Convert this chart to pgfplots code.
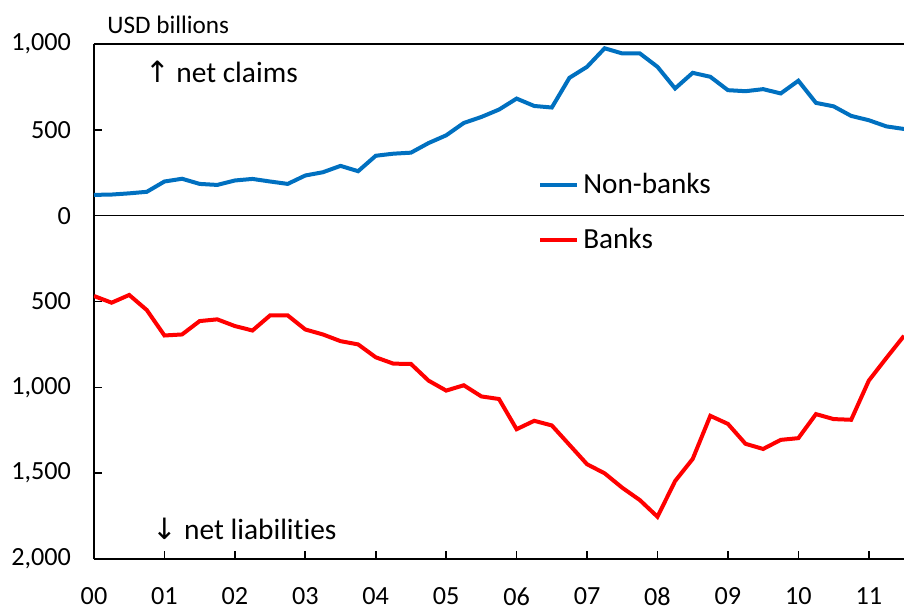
\documentclass[border=0pt]{standalone}
\usepackage{pgfplots}
\pgfplotsset{compat=1.18}
\usepackage{fontspec}
\setmainfont[Ligatures=NoCommon]{Carlito}
\newfontfamily\dejavu{DejaVu Sans}
\definecolor{nbblue}{HTML}{0070C0}
\definecolor{bkred}{HTML}{FF0000}
\begin{document}
\begin{tikzpicture}
\begin{axis}[
  scale only axis,
  width=405pt, height=257.5pt,
  xmin=2000, xmax=2011.5,
  ymin=-2000, ymax=1000,
  axis x line*=bottom, axis y line*=left,
  axis line style={line width=0.8pt, -},
  tick align=inside,
  major tick length=4pt,
  tick style={line width=0.8pt, black},
  xtick={2000,2001,...,2011},
  xticklabels={00,01,02,03,04,05,06,07,08,09,10,11},
  ytick={-2000,-1500,-1000,-500,0,500,1000},
  yticklabels={{2,000},{1,500},{1,000},{500},{0},{500},{1,000}},
  ticklabel style={font=\fontsize{13.1}{15}\selectfont},
  xticklabel style={inner sep=0pt, yshift=-14pt},
  yticklabel style={xshift=-8pt},
  /pgf/number format/assume math mode=true,
  clip=true,
  legend style={at={(0.548,0.757)}, anchor=north west, draw=none, fill=none,
    font=\fontsize{14.6}{17}\selectfont, row sep=11.8pt, inner sep=0pt},
  legend cell align=left,
  legend image code/.code={\draw[#1] (0pt,0pt)--(18.5pt,0pt);},
]
\addplot[nbblue, line width=2pt] coordinates {
(2000.00,121)(2000.25,123)(2000.50,130)(2000.75,139)
(2001.00,199)(2001.25,215)(2001.50,185)(2001.75,179)
(2002.00,205)(2002.25,214)(2002.50,199)(2002.75,185)
(2003.00,234)(2003.25,253)(2003.50,290)(2003.75,259)
(2004.00,349)(2004.25,361)(2004.50,367)(2004.75,423)
(2005.00,468)(2005.25,540)(2005.50,575)(2005.75,618)
(2006.00,682)(2006.25,639)(2006.50,630)(2006.75,803)
(2007.00,867)(2007.25,975)(2007.50,945)(2007.75,945)
(2008.00,867)(2008.25,741)(2008.50,832)(2008.75,809)
(2009.00,731)(2009.25,725)(2009.50,737)(2009.75,712)
(2010.00,786)(2010.25,657)(2010.50,637)(2010.75,581)
(2011.00,556)(2011.25,520)(2011.50,505)
};
\addlegendentry{Non-banks}
\addplot[bkred, line width=2pt] coordinates {
(2000.00,-468)(2000.25,-507)(2000.50,-462)(2000.75,-550)
(2001.00,-698)(2001.25,-692)(2001.50,-614)(2001.75,-604)
(2002.00,-643)(2002.25,-669)(2002.50,-581)(2002.75,-581)
(2003.00,-663)(2003.25,-692)(2003.50,-731)(2003.75,-750)
(2004.00,-825)(2004.25,-862)(2004.50,-864)(2004.75,-961)
(2005.00,-1019)(2005.25,-988)(2005.50,-1053)(2005.75,-1068)
(2006.00,-1244)(2006.25,-1195)(2006.50,-1222)(2006.75,-1335)
(2007.00,-1448)(2007.25,-1501)(2007.50,-1585)(2007.75,-1657)
(2008.00,-1754)(2008.25,-1546)(2008.50,-1417)(2008.75,-1166)
(2009.00,-1213)(2009.25,-1329)(2009.50,-1359)(2009.75,-1306)
(2010.00,-1296)(2010.25,-1156)(2010.50,-1185)(2010.75,-1189)
(2011.00,-961)(2011.25,-829)(2011.50,-700)
};
\addlegendentry{Banks}
\draw[line width=0.8pt] (rel axis cs:0,1) -- (rel axis cs:1,1);
\draw[line width=0.8pt] (axis cs:2000,0) -- (axis cs:2011.5,0);
\coordinate (bl) at (rel axis cs:0,0);
\coordinate (tl) at (rel axis cs:0,1);
\coordinate (nc) at (axis cs:2000.72,840);
\coordinate (nl) at (axis cs:2000.83,-1825);
\end{axis}
\node[anchor=west, inner sep=0pt, font=\fontsize{14.7}{17}\selectfont] at (nc) {{\dejavu ↑} net claims};
\node[anchor=west, inner sep=0pt, font=\fontsize{14.7}{17}\selectfont] at (nl) {{\dejavu ↓} net liabilities};
\node[anchor=south west, inner sep=0pt, font=\fontsize{12.6}{14}\selectfont] at ([xshift=6.5pt,yshift=5pt]tl) {USD billions};
\pgfresetboundingbox
\path[use as bounding box] ([shift={(-47pt,-25.5pt)}]bl) rectangle ([shift={(405pt,279.5pt)}]bl);
\end{tikzpicture}
\end{document}
